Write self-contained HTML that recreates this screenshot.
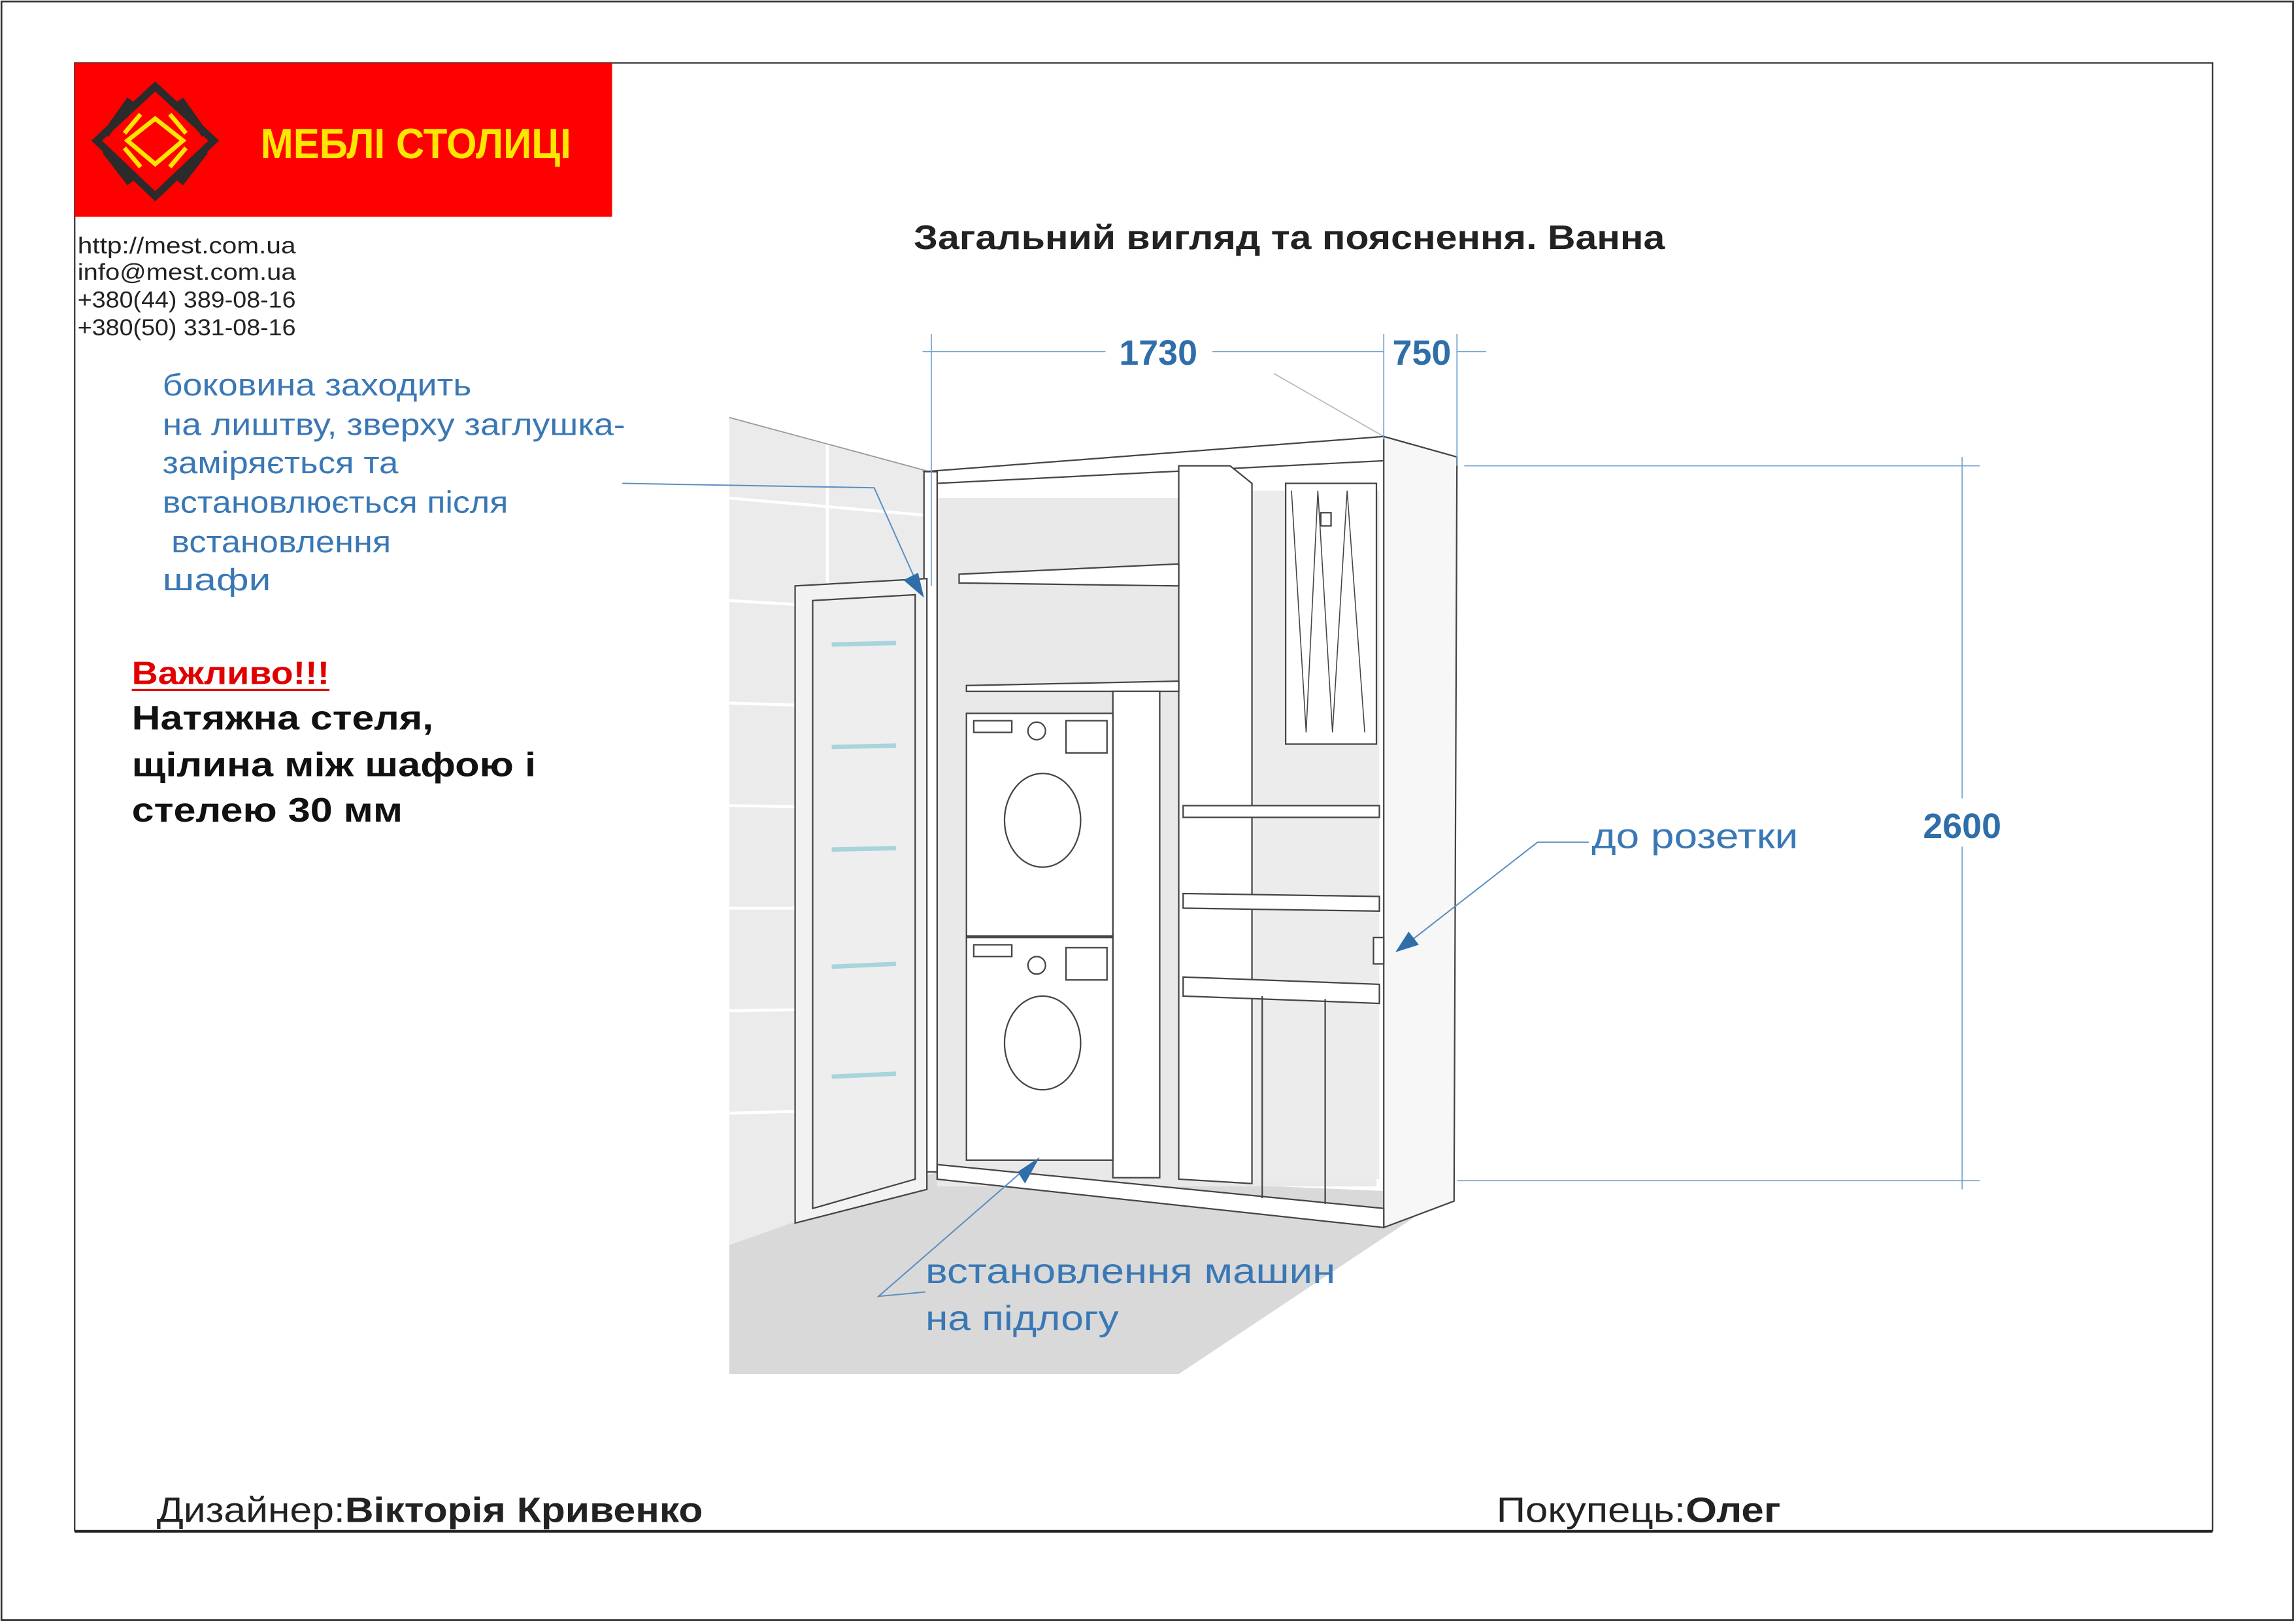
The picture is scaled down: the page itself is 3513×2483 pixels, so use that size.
<!DOCTYPE html>
<html><head><meta charset="utf-8"><style>
html,body{margin:0;padding:0;background:#fff}
svg{display:block}
text{font-family:"Liberation Sans","DejaVu Sans",sans-serif}
</style></head><body>
<svg width="3513" height="2483" viewBox="0 0 1568 1108" preserveAspectRatio="none" xmlns="http://www.w3.org/2000/svg">
<rect x="0" y="0" width="1568" height="1108" fill="#fff"/>
<rect x="1" y="1" width="1565" height="1105" fill="none" stroke="#333" stroke-width="1.2"/>
<rect x="51" y="43" width="1460" height="1002" fill="none" stroke="#333" stroke-width="1"/>
<line x1="51" y1="1045.5" x2="1511" y2="1045.5" stroke="#222" stroke-width="1.6"/>
<!-- logo -->
<rect x="51" y="43" width="367" height="105" fill="#fe0000"/>
<g fill="none" stroke="#2b2b2b" stroke-width="5">
<polygon points="106,59 146,96 106,134 66,96"/>
<line x1="89" y1="68" x2="72" y2="92"/><line x1="123" y1="68" x2="140" y2="92"/>
<line x1="72" y1="103" x2="89" y2="125"/><line x1="140" y1="103" x2="123" y2="125"/>
</g>
<g fill="none" stroke="#ffe600" stroke-width="3">
<polygon points="106,81 125,96 106,112 87,96"/>
<line x1="96" y1="78" x2="85" y2="91"/><line x1="116" y1="78" x2="127" y2="91"/>
<line x1="85" y1="101" x2="96" y2="114"/><line x1="127" y1="101" x2="116" y2="114"/>
</g>
<text x="178" y="108" font-size="29" font-weight="bold" fill="#ffe600" textLength="212" lengthAdjust="spacingAndGlyphs">МЕБЛІ  СТОЛИЦІ</text>
<g font-size="15.5" fill="#222">
<text x="53" y="173" textLength="149" lengthAdjust="spacingAndGlyphs">http://mest.com.ua</text>
<text x="53" y="191" textLength="149" lengthAdjust="spacingAndGlyphs">info@mest.com.ua</text>
<text x="53" y="210" textLength="149" lengthAdjust="spacingAndGlyphs">+380(44)  389-08-16</text>
<text x="53" y="229" textLength="149" lengthAdjust="spacingAndGlyphs">+380(50)  331-08-16</text>
</g>
<text x="624" y="170" font-size="23" font-weight="bold" fill="#222" textLength="513" lengthAdjust="spacingAndGlyphs">Загальний вигляд та пояснення.  Ванна</text>
<!-- room -->
<rect x="498" y="255" width="502" height="683" fill="#fff"/>
<polygon points="498,285 635,322 635,812 498,850" fill="#ebebeb"/>
<g stroke="#fff" stroke-width="2">
<line x1="498" y1="340" x2="635" y2="352"/><line x1="498" y1="410" x2="635" y2="418"/>
<line x1="498" y1="480" x2="635" y2="484"/><line x1="498" y1="550" x2="635" y2="552"/>
<line x1="498" y1="620" x2="635" y2="620"/><line x1="498" y1="690" x2="635" y2="688"/>
<line x1="498" y1="760" x2="635" y2="756"/><line x1="565" y1="295" x2="565" y2="840"/>
</g>
<polygon points="498,850 640,800 990,815 805,938 498,938" fill="#d9d9d9"/>
<line x1="498" y1="285" x2="635" y2="322" stroke="#999" stroke-width="0.8"/>
<line x1="870" y1="255" x2="945" y2="298" stroke="#bbb" stroke-width="0.8"/>
<!-- back wall inside -->
<rect x="640" y="340" width="300" height="470" fill="#e9e9e9"/>
<rect x="855" y="335" width="87" height="470" fill="#ececec"/>
<!-- cabinet -->
<g stroke="#444" stroke-width="1" fill="#fff">
<polygon points="631,322 945,298 995,312 640,330"/>
<polygon points="945,298 995,312 993,820 945,838" fill="#f7f7f7"/>
<rect x="631" y="322" width="9" height="478"/>
<polygon points="640,795 945,825 945,838 640,805"/>
<polygon points="805,318 840,318 855,330 855,808 805,805"/>
<polygon points="655,392 805,385 805,400 655,398"/>
<polygon points="660,468 805,465 805,472 660,472"/>
<polygon points="808,550 942,550 942,558 808,558"/>
<polygon points="808,610 942,612 942,622 808,620"/>
<polygon points="808,667 942,672 942,685 808,680"/>
<line x1="862" y1="680" x2="862" y2="818"/><line x1="905" y1="682" x2="905" y2="822"/>
<!-- washers -->
<rect x="760" y="472" width="32" height="332"/>
<rect x="660" y="487" width="100" height="152"/>
<rect x="660" y="640" width="100" height="152"/>
<ellipse cx="712" cy="560" rx="26" ry="32"/><ellipse cx="712" cy="712" rx="26" ry="32"/>
<rect x="665" y="492" width="26" height="8"/><rect x="665" y="645" width="26" height="8"/>
<circle cx="708" cy="499" r="6"/><circle cx="708" cy="659" r="6"/>
<rect x="728" y="492" width="28" height="22"/><rect x="728" y="647" width="28" height="22"/>
<!-- boiler -->
<rect x="878" y="330" width="62" height="178"/>
<polyline points="882,335 892,500 900,335 910,500 920,335 932,500" fill="none" stroke-width="0.7"/>
<rect x="902" y="350" width="7" height="9"/>
<!-- door -->
<polygon points="543,400 633,395 633,812 543,835" fill="#f2f2f2"/>
<polygon points="555,410 625,406 625,805 555,825" fill="#eeeeee"/>
<rect x="938" y="640" width="7" height="18" fill="#fff"/>
</g>
<g stroke="#a8d4dc" stroke-width="3">
<line x1="568" y1="440" x2="612" y2="439"/><line x1="568" y1="510" x2="612" y2="509"/>
<line x1="568" y1="580" x2="612" y2="579"/><line x1="568" y1="660" x2="612" y2="658"/><line x1="568" y1="735" x2="612" y2="733"/>
</g>
<!-- dimensions -->
<g stroke="#7aa7cf" stroke-width="0.8" fill="none">
<line x1="636" y1="228" x2="636" y2="400"/><line x1="945" y1="228" x2="945" y2="300"/><line x1="995" y1="228" x2="995" y2="318"/>
<line x1="630" y1="240" x2="755" y2="240"/><line x1="828" y1="240" x2="945" y2="240"/><line x1="995" y1="240" x2="1015" y2="240"/>
<line x1="1000" y1="318" x2="1352" y2="318"/><line x1="995" y1="806" x2="1352" y2="806"/>
<line x1="1340" y1="312" x2="1340" y2="545"/><line x1="1340" y1="578" x2="1340" y2="812"/>
</g>
<g font-size="24" font-weight="bold" fill="#2f6ea8" text-anchor="middle">
<text x="791" y="249">1730</text><text x="971" y="249">750</text><text x="1340" y="572">2600</text>
</g>
<!-- annotations -->
<g font-size="21" fill="#3a78b5">
<text x="111" y="270" textLength="211" lengthAdjust="spacingAndGlyphs">боковина заходить</text>
<text x="111" y="297" textLength="316" lengthAdjust="spacingAndGlyphs">на лиштву, зверху заглушка-</text>
<text x="111" y="323" textLength="161" lengthAdjust="spacingAndGlyphs">заміряється та</text>
<text x="111" y="350" textLength="236" lengthAdjust="spacingAndGlyphs">встановлюється після</text>
<text x="117" y="377" textLength="150" lengthAdjust="spacingAndGlyphs">встановлення</text>
<text x="111" y="403" textLength="74" lengthAdjust="spacingAndGlyphs">шафи</text>
</g>
<g stroke="#5a8fc2" stroke-width="0.9" fill="none">
<polyline points="425,330 597,333 627,400"/>
<polyline points="1085,575 1050,575 960,645"/>
<polyline points="632,882 600,885 700,798"/>
</g>
<g fill="#2f6ea8">
<polygon points="631,408 617,396 627,391"/>
<polygon points="953,650 962,636 969,645"/>
<polygon points="710,790 695,800 700,808"/>
</g>
<text x="90" y="467" font-size="22" font-weight="bold" fill="#e00000" textLength="135" lengthAdjust="spacingAndGlyphs">Важливо!!!</text>
<line x1="90" y1="471" x2="225" y2="471" stroke="#e00000" stroke-width="1.5"/>
<g font-size="23" font-weight="bold" fill="#111">
<text x="90" y="498" textLength="206" lengthAdjust="spacingAndGlyphs">Натяжна стеля,</text>
<text x="90" y="530" textLength="276" lengthAdjust="spacingAndGlyphs">щілина між шафою і</text>
<text x="90" y="561" textLength="185" lengthAdjust="spacingAndGlyphs">стелею 30 мм</text>
</g>
<g font-size="24" fill="#3a78b5">
<text x="1087" y="579" textLength="141" lengthAdjust="spacingAndGlyphs">до розетки</text>
<text x="632" y="876" textLength="280" lengthAdjust="spacingAndGlyphs">встановлення машин</text>
<text x="632" y="908" textLength="132" lengthAdjust="spacingAndGlyphs">на підлогу</text>
</g>
<g font-size="24" fill="#222">
<text x="107" y="1039" textLength="373" lengthAdjust="spacingAndGlyphs">Дизайнер:<tspan font-weight="bold">Вікторія Кривенко</tspan></text>
<text x="1022" y="1039" textLength="194" lengthAdjust="spacingAndGlyphs">Покупець:<tspan font-weight="bold">Олег</tspan></text>
</g>
</svg>
</body></html>
